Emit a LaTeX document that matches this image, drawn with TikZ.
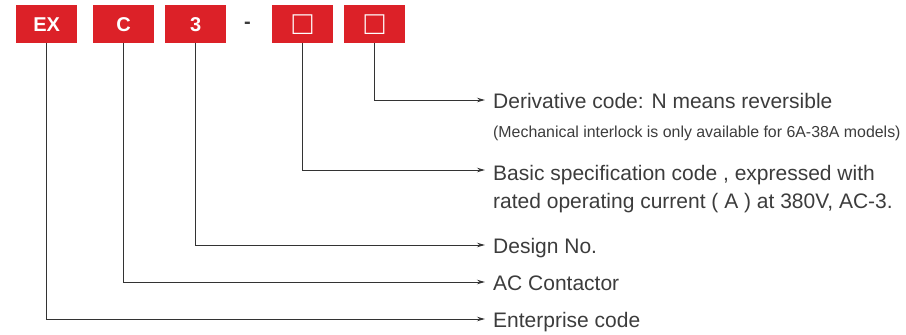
\documentclass[tikz,border=0pt]{standalone}
\usepackage{fontspec}
\setmainfont{Liberation Sans}
\usetikzlibrary{arrows.meta}
\definecolor{codered}{HTML}{DC2128}
\definecolor{txtgray}{HTML}{3C3C3C}
\definecolor{linegray}{HTML}{333333}
\begin{document}
\begin{tikzpicture}[x=1pt,y=-1pt,
 codebox/.style={fill=codered, minimum width=61pt, minimum height=38pt, inner sep=0pt, anchor=north west, text=white, font=\fontsize{20}{20}\selectfont\bfseries},
 sqbox/.style={codebox, font=\fontsize{33}{33}\selectfont},
 conn/.style={draw=linegray, line width=1pt, -{Stealth[length=8pt,width=4.5pt]}},
 lbl/.style={anchor=base west, inner sep=0pt, text=txtgray, font=\fontsize{21}{21}\selectfont},
 note/.style={anchor=base west, inner sep=0pt, text=txtgray, font=\fontsize{15.9}{15.9}\selectfont},
]
\useasboundingbox (0,0) rectangle (906,335);
\node[codebox] (b1) at (16,5) {EX};
\node[codebox] (b2) at (93,5) {C};
\node[codebox] (b3) at (165,5) {3};
\node[text=txtgray, inner sep=0pt, font=\fontsize{20}{20}\selectfont\bfseries] (dash) at (247.5,25) {-};
\node[sqbox] (b4) at (272,5) {□};
\node[sqbox] (b5) at (344,5) {□};

\node[lbl] (t1) at (493,108) {Derivative code: N means reversible};
\node[note] (t1b) at (493,137) {(Mechanical interlock is only available for 6A-38A models)};
\node[lbl] (t2) at (493,180) {Basic specification code , expressed with};
\node[lbl] (t2b) at (493,208) {rated operating current ( A ) at 380V, AC-3.};
\node[lbl] (t3) at (493,253) {Design No.};
\node[lbl] (t4) at (493,290) {AC Contactor};
\node[lbl] (t5) at (493,327) {Enterprise code};

\draw[conn] (b5.south) |- ([xshift=-8pt,yshift=8pt]t1.base west);
\draw[conn] (b4.south) |- ([xshift=-8pt,yshift=10pt]t2.base west);
\draw[conn] (b3.south) |- ([xshift=-8pt,yshift=8pt]t3.base west);
\draw[conn] (b2.south) |- ([xshift=-8pt,yshift=8pt]t4.base west);
\draw[conn] (b1.south) |- ([xshift=-8pt,yshift=8pt]t5.base west);
\end{tikzpicture}
\end{document}
